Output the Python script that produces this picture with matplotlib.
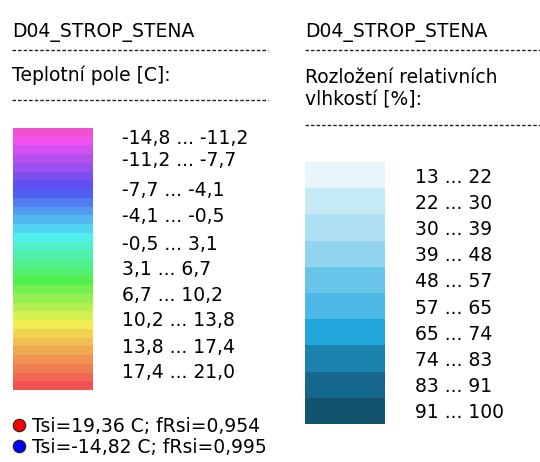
import colorsys
import numpy as np
import matplotlib
matplotlib.use("Agg")
import matplotlib.pyplot as plt

# ---- data ----
title = "D04_STROP_STENA"
temp_heading = "Teplotní pole [C]:"
rh_heading = ["Rozložení relativních", "vlhkostí [%]:"]
temp_bounds = [-14.8, -11.2, -7.7, -4.1, -0.5, 3.1, 6.7, 10.2, 13.8, 17.4, 21.0]
rh_bounds = [13, 22, 30, 39, 48, 57, 65, 74, 83, 91, 100]
stripes_per_interval = 3
rh_colors = ["#e8f6fc", "#c6e9f6", "#b0e0f3", "#90d4ef", "#68c4e8",
             "#4cb8e5", "#20a6da", "#1a82ad", "#15678c", "#125470"]
point_labels = ["Tsi=19,36 C; fRsi=0,954", "Tsi=-14,82 C; fRsi=0,995"]
point_colors = ["#ff0000", "#0000ff"]

# ---- style / layout ----
FS = 13.5
FONT = "DejaVu Sans"
W, H = 540, 462

def fmt1(v):
    return f"{v:.1f}".replace(".", ",")

n_temp = (len(temp_bounds) - 1) * stripes_per_interval
hue_pos = [0, 1, 6.5, 11.5, 16.5, 22.3, n_temp - 1]
hue_val = [312, 300, 240, 185, 125, 55, 0]
temp_colors = []
for i in range(n_temp):
    h = np.interp(i, hue_pos, hue_val) / 360.0
    temp_colors.append(colorsys.hsv_to_rgb(h, 0.66, 0.94))

fig = plt.figure(figsize=(W / 100, H / 100), dpi=100)
main = fig.add_axes([0, 0, 1, 1])
main.set_xlim(0, W)
main.set_ylim(H, 0)
main.axis("off")

def px_axes(x0, y0, x1, y1):
    return fig.add_axes([x0 / W, 1 - y1 / H, (x1 - x0) / W, (y1 - y0) / H])

def txt(x, y, s):
    main.text(x, y, s, fontsize=FS, family=FONT, color="#000000",
              ha="left", va="baseline")

def dash(x0, x1, y):
    main.plot([x0, x1], [y, y], color="#202020", lw=1.0,
              linestyle=(0, (2.5, 1.5)), solid_capstyle="butt", dash_capstyle="butt")

# left panel
txt(12, 37, title)
dash(12, 268, 49.5)
txt(12, 81, temp_heading)
dash(12, 268, 99.5)

axl = px_axes(13, 128, 93, 390)
axl.set_xlim(0, 1)
axl.set_ylim(n_temp, 0)
axl.bar([0.5] * n_temp, [1] * n_temp, bottom=np.arange(n_temp), width=1,
        color=temp_colors, linewidth=0)
axl.axis("off")

temp_label_y = [137, 159, 189, 215, 243, 268, 294, 319, 346, 371]
for i in range(len(temp_bounds) - 1):
    s = f"{fmt1(temp_bounds[i])} ... {fmt1(temp_bounds[i + 1])}"
    txt(122, temp_label_y[i] + 7, s)

# right panel
txt(305, 37, title)
dash(305, 540, 49.5)
txt(305, 83, rh_heading[0])
txt(305, 105, rh_heading[1])
dash(305, 540, 124.5)

axr = px_axes(305, 162, 385, 424)
n_rh = len(rh_bounds) - 1
axr.set_xlim(0, 1)
axr.set_ylim(n_rh, 0)
axr.bar([0.5] * n_rh, [1] * n_rh, bottom=np.arange(n_rh), width=1,
        color=rh_colors, linewidth=0)
axr.axis("off")

for i in range(n_rh):
    s = f"{rh_bounds[i]} ... {rh_bounds[i + 1]}"
    txt(415, 176 + 26.1 * i + 7, s)

# bottom points
for k, (lab, col) in enumerate(zip(point_labels, point_colors)):
    yc = 425 + 21 * k
    main.scatter([19], [yc], s=80, color=col, edgecolor="#202020", linewidth=0.8, zorder=3)
    txt(32, yc + 7, lab)

fig.savefig("out.png", dpi=100)
